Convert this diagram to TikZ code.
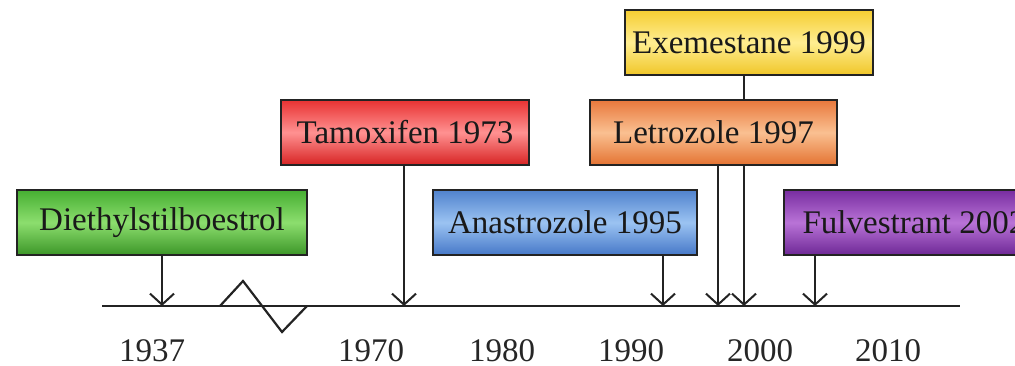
\documentclass[tikz,border=0pt]{standalone}
\usepackage{fontspec}
\setmainfont{Liberation Serif}
\usepackage{tikz}
\usetikzlibrary{arrows.meta,backgrounds,positioning,calc}
\definecolor{grnT}{RGB}{70,175,50}
\definecolor{grnM}{RGB}{140,222,110}
\definecolor{grnB}{RGB}{60,150,40}
\definecolor{redT}{RGB}{232,50,50}
\definecolor{redM}{RGB}{255,145,145}
\definecolor{redB}{RGB}{215,35,35}
\definecolor{bluT}{RGB}{80,130,205}
\definecolor{bluM}{RGB}{155,195,242}
\definecolor{bluB}{RGB}{70,120,200}
\definecolor{orgT}{RGB}{232,120,60}
\definecolor{orgM}{RGB}{250,192,145}
\definecolor{orgB}{RGB}{228,115,50}
\definecolor{yelT}{RGB}{245,205,50}
\definecolor{yelM}{RGB}{255,238,145}
\definecolor{yelB}{RGB}{240,198,40}
\definecolor{purT}{RGB}{120,45,160}
\definecolor{purM}{RGB}{185,115,215}
\definecolor{purB}{RGB}{110,40,150}
\definecolor{lineGray}{RGB}{35,35,35}

\begin{document}
\begin{tikzpicture}[x=1pt, y=-1pt,
  drug/.style={draw=lineGray, line width=2pt, inner sep=0pt,
    minimum width=248pt, minimum height=65pt,
    text=black!90, font=\fontsize{33}{36}\selectfont},
  tint/.style n args={3}{top color=#1, bottom color=#3, middle color=#2},
  arr/.style={-{Straight Barb[length=11pt,width=24pt,line width=2pt]}, line width=2.2pt, draw=lineGray},
  year/.style={inner sep=0pt, text=black!85, font=\fontsize{33}{36}\selectfont}]
\useasboundingbox (0,0) rectangle (1015,366);
\clip (0,0) rectangle (1015,366);

% drug boxes
\node[drug, tint={grnT}{grnM}{grnB}, minimum width=290pt] (dies) at (162,222.5) {Diethylstilboestrol};
\node[drug, tint={redT}{redM}{redB}] (tamox) at (405,132.5) {Tamoxifen 1973};
\node[drug, tint={bluT}{bluM}{bluB}, minimum width=264pt] (anast) at (565,222.5) {Anastrozole 1995};
\node[drug, tint={yelT}{yelM}{yelB}] (exem) at (749,42.5) {Exemestane 1999};
\node[drug, tint={orgT}{orgM}{orgB}, minimum width=247pt] (letro) at (713.5,132.5) {Letrozole 1997};
\node[drug, tint={purT}{purM}{purB}, minimum width=250pt, anchor=west] (fulv) at (783,222.5) {\hspace*{10pt}Fulvestrant 2002\hfill};

% timeline
\coordinate (start) at (102,306);
\coordinate (end) at (960,306);
\draw[line width=2.2pt, draw=lineGray] (start) -- (end);
\draw[line width=2.2pt, draw=lineGray] (220,306) -- (243,281) -- (282,332) -- (307,306);

\coordinate (y1937) at (162,306);
\coordinate (y1973) at (404,306);
\coordinate (y1995) at (663,306);
\coordinate (y1997) at (718,306);
\coordinate (y1999) at (744,306);
\coordinate (y2002) at (815,306);

\begin{scope}[on background layer]
\draw[arr] (dies.south -| y1937) -- (y1937);
\draw[arr] (tamox.south -| y1973) -- (y1973);
\draw[arr] (anast.south -| y1995) -- (y1995);
\draw[arr] (letro.south -| y1997) -- (y1997);
\draw[arr] (exem.south -| y1999) -- (y1999);
\draw[arr] (fulv.south -| y2002) -- (y2002);
\end{scope}

% years
\node[year] (l1937) at (152,351) {1937};
\node[year] (l1970) at (371,351) {1970};
\node[year] (l1980) at (502,351) {1980};
\node[year] (l1990) at (631,351) {1990};
\node[year] (l2000) at (760,351) {2000};
\node[year] (l2010) at (888,351) {2010};
\end{tikzpicture}
\end{document}
